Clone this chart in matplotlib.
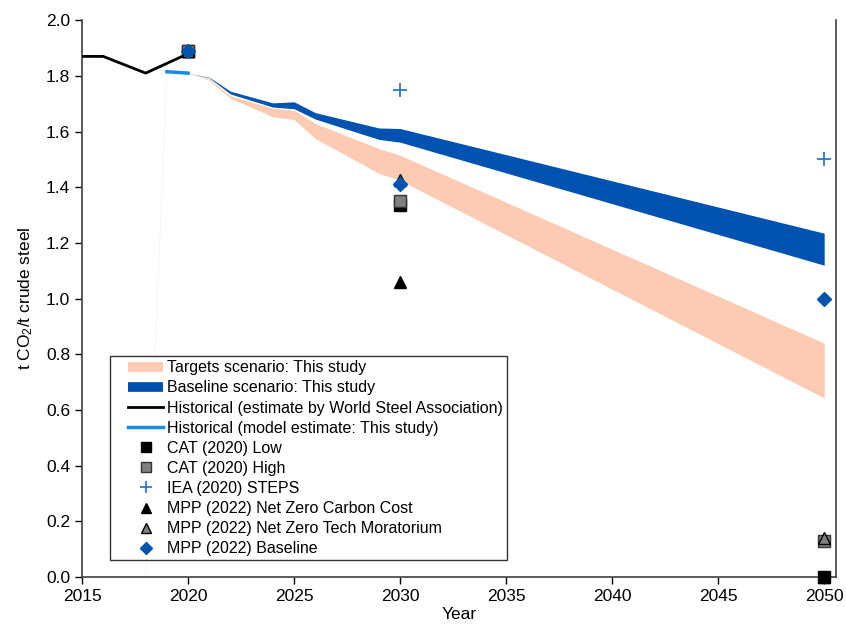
import numpy as np
import matplotlib
matplotlib.use("Agg")
import matplotlib.pyplot as plt
from matplotlib.lines import Line2D
from matplotlib.legend_handler import HandlerLine2D

plt.rcParams['font.family'] = ['Liberation Sans', 'DejaVu Sans']
plt.rcParams['mathtext.fontset'] = 'custom'
plt.rcParams['mathtext.rm'] = 'Liberation Sans'
plt.rcParams['mathtext.it'] = 'Liberation Sans:italic'

# historical emission intensity (worldsteel estimate)
hist_years = [2015, 2016, 2017, 2018, 2019, 2020]
hist_vals = [1.87, 1.87, 1.84, 1.81, 1.845, 1.88]

# historical model estimate
model_years = [2019, 2020]
model_vals = [1.815, 1.81]
# lead-in segment of the model series
lead_years = [2018, 2019]
lead_vals = [0.0, 1.815]

# scenario bands (upper / lower edge)
band_years = [2020, 2021, 2022, 2024, 2025, 2026, 2029, 2030, 2050]
base_hi = [1.81, 1.795, 1.745, 1.703, 1.707, 1.668, 1.613, 1.611, 1.235]
base_lo = [1.81, 1.793, 1.735, 1.688, 1.682, 1.645, 1.572, 1.562, 1.12]
targ_hi = [1.81, 1.79, 1.728, 1.684, 1.677, 1.629, 1.539, 1.515, 0.84]
targ_lo = [1.81, 1.785, 1.719, 1.653, 1.643, 1.575, 1.45, 1.425, 0.643]

# external benchmarks
ext_years = [2020, 2030, 2050]
cat_low = [1.89, 1.335, 0.0]
cat_high = [1.89, 1.35, 0.13]
iea_years = [2030, 2050]
iea_steps = [1.75, 1.50]
mpp_ncc = [1.89, 1.06, 0.0]
mpp_tm = [1.89, 1.425, 0.14]
mpp_base = [1.89, 1.41, 1.00]

peach = '#fdcbb3'
navy = '#0052b0'
sky = '#1a8ae5'

fig = plt.figure(figsize=(8.46, 6.32), dpi=100)
ax = fig.add_axes([0.097, 0.087, 0.891, 0.881])

ax.fill_between(band_years, targ_lo, targ_hi, color=peach, lw=0, zorder=1)
ax.fill_between(band_years, base_lo, base_hi, color=navy, lw=0, zorder=2)
ax.plot(lead_years, lead_vals, color='#eef3fa', lw=0.6, zorder=2)
ax.plot(hist_years, hist_vals, color='black', lw=2, zorder=3)
ax.plot(model_years, model_vals, color=sky, lw=2.5, zorder=3)

ax.plot(ext_years, cat_low, ls='none', marker='s', ms=8, mfc='black', mec='black', zorder=4, clip_on=False)
ax.plot(ext_years, cat_high, ls='none', marker='s', ms=9, mfc='#808080', mec='#333333', mew=1, zorder=4, clip_on=False)
ax.plot(iea_years, iea_steps, ls='none', marker='+', ms=10, mew=1.2, color='#1f6fd0', zorder=4)
ax.plot(ext_years, mpp_ncc, ls='none', marker='^', ms=8, mfc='black', mec='black', zorder=4, clip_on=False)
ax.plot(ext_years, mpp_tm, ls='none', marker='^', ms=9, mfc='#808080', mec='black', mew=1, zorder=4, clip_on=False)
ax.plot(ext_years, mpp_base, ls='none', marker='D', ms=7.5, mfc=navy, mec=navy, zorder=5, clip_on=False)

ax.set_xlim(2015, 2050.55)
ax.set_ylim(0, 2.0)
ax.set_xticks(np.arange(2015, 2051, 5))
ax.set_yticks(np.arange(0, 2.01, 0.2))
ax.set_yticklabels(['%.1f' % v for v in np.arange(0, 2.01, 0.2)])
ax.tick_params(labelsize=12.5, direction='out', length=5, width=1, colors='black')
ax.spines['top'].set_visible(False)
for s in ('left', 'bottom', 'right'):
    ax.spines[s].set_linewidth(1.2)
    ax.spines[s].set_color('#404040')
ax.set_xlabel('Year', fontsize=12.5, labelpad=2)
ax.set_ylabel('t CO$_2$/t crude steel', fontsize=12.5, labelpad=8)

handles = [
    Line2D([], [], color=peach, lw=7, solid_capstyle='butt'),
    Line2D([], [], color=navy, lw=7, solid_capstyle='butt'),
    Line2D([], [], color='black', lw=2),
    Line2D([], [], color=sky, lw=2.5),
    Line2D([], [], ls='none', marker='s', ms=7, mfc='black', mec='black'),
    Line2D([], [], ls='none', marker='s', ms=7, mfc='#808080', mec='#333333'),
    Line2D([], [], ls='none', marker='+', ms=9, mew=1.2, color='#1f6fd0'),
    Line2D([], [], ls='none', marker='^', ms=7, mfc='black', mec='black'),
    Line2D([], [], ls='none', marker='^', ms=7, mfc='#808080', mec='black'),
    Line2D([], [], ls='none', marker='D', ms=6, mfc=navy, mec=navy),
]
labels = [
    'Targets scenario: This study',
    'Baseline scenario: This study',
    'Historical (estimate by World Steel Association)',
    'Historical (model estimate: This study)',
    'CAT (2020) Low',
    'CAT (2020) High',
    'IEA (2020) STEPS',
    'MPP (2022) Net Zero Carbon Cost',
    'MPP (2022) Net Zero Tech Moratorium',
    'MPP (2022) Baseline',
]
leg = ax.legend(handles, labels, loc='lower left', bbox_to_anchor=(0.037, 0.03),
                borderaxespad=0, fontsize=11.5, frameon=True, fancybox=False,
                handlelength=3.1, handletextpad=0.2, labelspacing=0.32,
                borderpad=0.25, handler_map={Line2D: HandlerLine2D(xpad=0.9)})
leg.get_frame().set_edgecolor('black')
leg.get_frame().set_linewidth(1.0)
leg.set_zorder(6)

fig.savefig('out.png', dpi=100)
